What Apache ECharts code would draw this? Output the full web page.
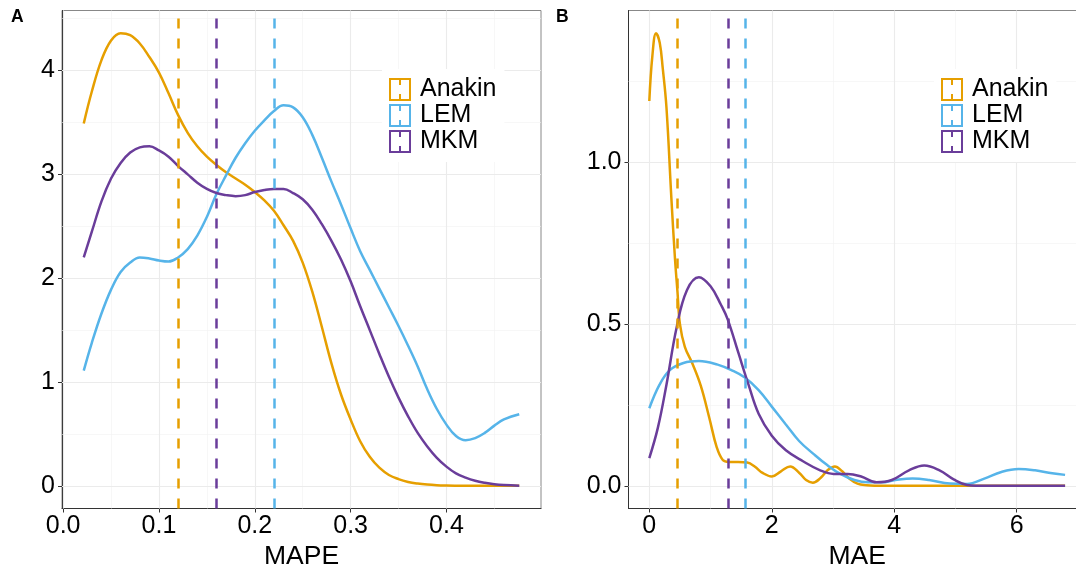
<!DOCTYPE html>
<html>
<head>
<meta charset="utf-8">
<script src="https://cdn.jsdelivr.net/npm/echarts@6/dist/echarts.min.js"></script>
<style>html,body{margin:0;padding:0;background:#fff;}#chart{width:1076px;height:569px;}</style>
</head>
<body>
<div id="chart"></div>
<script>
// ---------- data ----------
const methods = ['Anakin', 'LEM', 'MKM'];

// Panel A: density of MAPE
const mapeX = [0.0215,0.03,0.04,0.05,0.06,0.07,0.08,0.09,0.10,0.11,0.12,0.13,0.14,0.15,0.16,0.17,0.18,0.19,0.20,0.21,0.22,0.23,0.24,0.25,0.26,0.27,0.28,0.29,0.30,0.31,0.32,0.33,0.34,0.35,0.36,0.37,0.38,0.39,0.40,0.41,0.42,0.43,0.44,0.45,0.46,0.476];
const mapeAnakin = [3.49,3.80,4.10,4.29,4.36,4.34,4.26,4.13,3.98,3.78,3.57,3.40,3.27,3.17,3.09,3.02,2.96,2.90,2.83,2.75,2.65,2.51,2.36,2.15,1.87,1.53,1.18,0.88,0.64,0.43,0.28,0.175,0.105,0.065,0.038,0.022,0.012,0.006,0.003,0.0015,0.0008,0.0004,0.0002,0.0001,0,0];
const mapeLEM = [1.11,1.38,1.66,1.89,2.06,2.15,2.20,2.19,2.17,2.16,2.20,2.28,2.41,2.59,2.81,2.99,3.16,3.30,3.42,3.52,3.61,3.665,3.645,3.55,3.38,3.16,2.93,2.71,2.48,2.26,2.08,1.90,1.72,1.54,1.35,1.15,0.93,0.74,0.59,0.48,0.44,0.46,0.51,0.58,0.64,0.69];
const mapeMKM = [2.20,2.45,2.74,2.96,3.11,3.21,3.26,3.27,3.23,3.17,3.08,3.00,2.92,2.86,2.82,2.80,2.79,2.80,2.83,2.85,2.86,2.86,2.82,2.76,2.66,2.52,2.36,2.18,1.97,1.73,1.50,1.27,1.05,0.85,0.67,0.51,0.38,0.27,0.185,0.12,0.08,0.05,0.03,0.016,0.008,0.002];
const mapeMeans = [0.118, 0.218, 0.158]; // Anakin, LEM, MKM

// Panel B: density of MAE
const maeAnakinX = [0,0.05,0.11,0.17,0.22,0.28,0.36,0.42,0.46,0.5,0.58,0.7,0.84,0.98,1.1,1.2,1.3,1.45,1.6,1.72,1.85,2.0,2.15,2.3,2.45,2.56,2.67,2.8,2.92,3.03,3.15,3.27,3.4,3.55,3.7,4.0,5.0,6.0,6.79];
const maeAnakinY = [1.19,1.33,1.40,1.37,1.29,1.17,0.89,0.70,0.60,0.50,0.43,0.38,0.31,0.21,0.12,0.08,0.074,0.074,0.072,0.06,0.04,0.029,0.045,0.06,0.04,0.018,0.01,0.025,0.05,0.06,0.045,0.022,0.007,0.002,0.0005,0,0,0,0];
const maeLEMX = [0,0.167,0.335,0.558,0.81,1.116,1.34,1.56,1.785,2.0,2.23,2.45,2.68,2.9,3.12,3.35,3.57,3.79,4.02,4.3,4.57,4.91,5.19,5.47,5.75,6.03,6.3,6.58,6.79];
const maeLEMY = [0.24,0.313,0.358,0.38,0.386,0.375,0.358,0.335,0.296,0.245,0.19,0.138,0.099,0.065,0.037,0.018,0.011,0.011,0.018,0.0225,0.018,0.007,0.006,0.0225,0.043,0.052,0.048,0.039,0.034];
const maeMKMX = [0,0.14,0.28,0.446,0.614,0.81,1.0,1.17,1.28,1.45,1.62,1.785,2.0,2.23,2.51,2.79,3.01,3.24,3.46,3.71,3.96,4.24,4.49,4.74,4.97,5.19,5.5,6.0,6.79];
const maeMKMY = [0.086,0.18,0.313,0.49,0.605,0.645,0.617,0.56,0.515,0.414,0.313,0.223,0.155,0.11,0.076,0.048,0.037,0.037,0.029,0.011,0.018,0.048,0.063,0.048,0.02,0.003,0,0,0];
const maeMeans = [0.457, 1.563, 1.29]; // Anakin, LEM, MKM

// Ticks / gridlines
const mapeXTicks = [0, 0.1, 0.2, 0.3, 0.4];
const mapeXMinor = [0.05, 0.15, 0.25, 0.35, 0.45];
const mapeYTicks = [0, 1, 2, 3, 4];
const mapeYMinor = [0.5, 1.5, 2.5, 3.5, 4.5];
const maeXTicks = [0, 2, 4, 6];
const maeXMinor = [1, 3, 5];
const maeYTicks = [0, 0.5, 1.0];
const maeYMinor = [0.25, 0.75, 1.25];

// ---------- style ----------
const colors = ['#E69F00', '#56B4E9', '#6A3D9A'];
const FONT = 'Liberation Sans';
const zip = (xs, ys) => xs.map((x, i) => [x, ys[i]]);

const mapeSeries = [mapeAnakin, mapeLEM, mapeMKM];
const maeXs = [maeAnakinX, maeLEMX, maeMKMX];
const maeYs = [maeAnakinY, maeLEMY, maeMKMY];

function gridSeries(idx, xMajor, xMinor, yMajor, yMinor) {
  const maj = {color: '#ebebeb', width: 1.1, type: 'solid'};
  const min = {color: '#f2f2f2', width: 0.6, type: 'solid'};
  const data = [];
  xMinor.forEach(v => data.push({xAxis: v, lineStyle: min}));
  yMinor.forEach(v => data.push({yAxis: v, lineStyle: min}));
  xMajor.forEach(v => data.push({xAxis: v, lineStyle: maj}));
  yMajor.forEach(v => data.push({yAxis: v, lineStyle: maj}));
  return {
    type: 'line', name: 'grid' + idx, xAxisIndex: idx, yAxisIndex: idx, data: [],
    silent: true, z: 1,
    markLine: {silent: true, z: 1, symbol: ['none', 'none'], label: {show: false},
      emphasis: {disabled: true}, animation: false, data: data}
  };
}

const series = [gridSeries(0, mapeXTicks, mapeXMinor, mapeYTicks, mapeYMinor),
                gridSeries(1, maeXTicks, maeXMinor, maeYTicks, maeYMinor)];

methods.forEach((m, i) => {
  series.push({
    type: 'line', name: m, xAxisIndex: 0, yAxisIndex: 0,
    data: zip(mapeX, mapeSeries[i]), showSymbol: false, smooth: 0.4, z: 3,
    lineStyle: {color: colors[i], width: 2.5}, itemStyle: {color: colors[i]},
    emphasis: {disabled: true},
    markLine: {silent: true, z: 5, symbol: ['none', 'none'], label: {show: false}, animation: false,
      lineStyle: {color: colors[i], width: 2.5, type: [10, 10]}, emphasis: {disabled: true},
      data: [{xAxis: mapeMeans[i]}]}
  });
});
methods.forEach((m, i) => {
  series.push({
    type: 'line', name: m, xAxisIndex: 1, yAxisIndex: 1,
    data: zip(maeXs[i], maeYs[i]), showSymbol: false, smooth: 0.4, z: 3,
    lineStyle: {color: colors[i], width: 2.5}, itemStyle: {color: colors[i]},
    emphasis: {disabled: true},
    markLine: {silent: true, z: 5, symbol: ['none', 'none'], label: {show: false}, animation: false,
      lineStyle: {color: colors[i], width: 2.5, type: [10, 10]}, emphasis: {disabled: true},
      data: [{xAxis: maeMeans[i]}]}
  });
});

function xAxisCfg(idx, min, max, ticks, fmt, name) {
  return {
    type: 'value', gridIndex: idx, min: min, max: max,
    splitLine: {show: false},
    axisLine: {show: true, onZero: false, lineStyle: {color: '#333', width: 1}},
    axisTick: {show: true, length: 4, customValues: ticks, lineStyle: {color: '#333', width: 1}},
    axisLabel: {customValues: ticks, formatter: fmt, fontSize: 25, color: '#000', fontFamily: FONT, margin: 5},
    name: name, nameLocation: 'middle', nameGap: 33,
    nameTextStyle: {fontSize: 26.5, color: '#000', fontFamily: FONT}
  };
}
function yAxisCfg(idx, min, max, ticks, fmt) {
  return {
    type: 'value', gridIndex: idx, min: min, max: max,
    splitLine: {show: false},
    axisLine: {show: true, onZero: false, lineStyle: {color: '#333', width: 1}},
    axisTick: {show: true, length: 4, customValues: ticks, lineStyle: {color: '#333', width: 1}},
    axisLabel: {customValues: ticks, formatter: fmt, fontSize: 25, color: '#000', fontFamily: FONT, margin: 7}
  };
}

const keyIcon = 'path://M0,0H22V23H0Z M2,2V21H20V2Z M10,0H12V7H10Z M10,16H12V23H10Z';
function legendCfg(left) {
  return {
    orient: 'vertical', left: left, top: 69, padding: [8, 8, 8, 7],
    backgroundColor: '#fff', itemWidth: 22, itemHeight: 23, itemGap: 1,
    icon: keyIcon, itemStyle: {borderWidth: 0},
    selectedMode: false,
    textStyle: {fontSize: 25, color: '#000', fontFamily: FONT, padding: [0, 0, 0, 4]},
    data: methods
  };
}

const option = {
  animation: false,
  backgroundColor: '#fff',
  title: [
    {text: 'A', left: 11, top: 8, padding: 0, textStyle: {fontSize: 17.5, fontWeight: 'bold', color: '#000', fontFamily: FONT}},
    {text: 'B', left: 556, top: 8, padding: 0, textStyle: {fontSize: 17.5, fontWeight: 'bold', color: '#000', fontFamily: FONT}}
  ],
  legend: [legendCfg(382), legendCfg(934)],
  grid: [
    {left: 62, top: 10.5, width: 479, height: 498, show: true, borderColor: '#888', borderWidth: 1,
     backgroundColor: '#fff', containLabel: false, outerBoundsMode: 'none'},
    {left: 628.5, top: 10.5, width: 457.4, height: 498, show: true, borderColor: '#888', borderWidth: 1,
     backgroundColor: '#fff', containLabel: false, outerBoundsMode: 'none'}
  ],
  xAxis: [
    xAxisCfg(0, -0.0012, 0.4987, mapeXTicks, v => v.toFixed(1), 'MAPE'),
    xAxisCfg(1, -0.34, 7.13, maeXTicks, v => String(v), 'MAE')
  ],
  yAxis: [
    yAxisCfg(0, -0.218, 4.578, mapeYTicks, v => String(v)),
    yAxisCfg(1, -0.07, 1.47, maeYTicks, v => v.toFixed(1))
  ],
  series: series
};

const chart = echarts.init(document.getElementById('chart'), null, {renderer: 'canvas'});
chart.setOption(option);
</script>
</body>
</html>
